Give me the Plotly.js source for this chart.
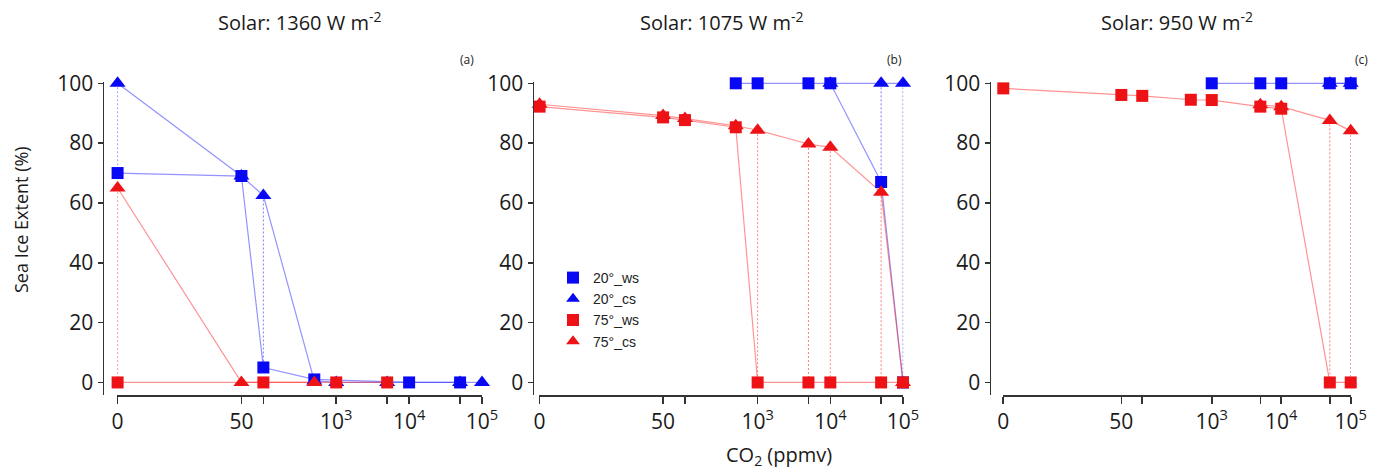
<!DOCTYPE html>
<html>
<head>
<meta charset="utf-8">
<script src="https://cdn.plot.ly/plotly-3.0.1.min.js"></script>
<style>html,body{margin:0;padding:0;background:#fff;}#chart{width:1378px;height:470px;}</style>
</head>
<body>
<div id="chart"></div>
<script>
// CO2 levels (ppmv); 0 ppmv is shown at the "0" tick position (1 on the log axis)
const co2 = [0, 50, 100, 500, 1000, 5000, 10000, 50000, 100000];

const seriesNames = ['20°_ws', '20°_cs', '75°_ws', '75°_cs'];
const panelTitles = ['Solar: 1360 W m<sup>-2</sup>', 'Solar: 1075 W m<sup>-2</sup>', 'Solar: 950 W m<sup>-2</sup>'];
const panelLabels = ['(a)', '(b)', '(c)'];

const xTickVals = [0, 50, 1000, 10000, 100000];
const xTickText = ['0', '50', '10<sup>3</sup>', '10<sup>4</sup>', '10<sup>5</sup>'];
const xMinorTickVals = [100, 5000, 50000];
const yTickVals = [0, 20, 40, 60, 80, 100];

// Panel (a) Solar 1360
const a_ws20 = [70, 69, 5, 1, null, null, 0, 0, null];
const a_cs20 = [100, 69, 62.5, 0.5, 0, 0, null, 0, 0];
const a_ws75 = [0, null, 0, null, 0, 0, null, null, null];
const a_cs75 = [65, 0, null, 0, null, null, null, null, null];

// Panel (b) Solar 1075
const b_ws20 = [null, null, null, 100, 100, 100, 100, 67, 0];
const b_cs20 = [null, null, null, null, null, null, 100, 100, 100];
const b_ws75 = [92.2, 88.6, 87.7, 85.3, 0, 0, 0, 0, 0];
const b_cs75 = [93, 89.2, 88.2, 85.8, 84.3, 79.7, 78.6, 63.6, 0];

// Panel (c) Solar 950
const c_ws20 = [null, null, null, null, 100, 100, 100, 100, 100];
const c_cs20 = [null, null, null, null, null, null, null, 100, 100];
const c_ws75 = [98.3, 96.1, 95.8, 94.5, 94.4, 92.2, 91.5, 0, 0];
const c_cs75 = [null, null, null, null, null, 92.8, 92.2, 87.6, 84.1];

const panels = [
  {ws20: a_ws20, cs20: a_cs20, ws75: a_ws75, cs75: a_cs75},
  {ws20: b_ws20, cs20: b_cs20, ws75: b_ws75, cs75: b_cs75},
  {ws20: c_ws20, cs20: c_cs20, ws75: c_ws75, cs75: c_cs75}
];

const toLogX = v => (v === 0 ? 1 : v);
const xPlot = co2.map(toLogX);

const BLUE = 'rgb(8,8,245)', RED = 'rgb(236,18,22)';
const BLUE_L = 'rgba(40,40,255,0.5)', RED_L = 'rgba(255,40,40,0.5)';
const BLUE_D = 'rgba(40,40,255,0.6)', RED_D = 'rgba(255,40,40,0.6)';

const W = 1378, H = 470;
const geom = [
  {x0: 117.3, x1: 482.3, yax: 102.5},
  {x0: 539.3, x1: 903.3, yax: 532.5},
  {x0: 1003, x1: 1351, yax: 989.5}
];
const yTop = 83.3, yBot = 395;

const lineTraces = [], markerTraces = [], connTraces = [];
function connectors(ws, cs, color, xa, ya) {
  const xs = [], ys = [];
  co2.forEach((c, i) => {
    if (ws[i] != null && cs[i] != null && Math.abs(ws[i] - cs[i]) > 2) {
      xs.push(toLogX(c), toLogX(c), null);
      ys.push(cs[i], ws[i], null);
    }
  });
  return {x: xs, y: ys, xaxis: xa, yaxis: ya, mode: 'lines', showlegend: false, hoverinfo: 'skip',
          line: {color: color, width: 1, dash: '2px,2px'}};
}

panels.forEach((p, k) => {
  const xa = k === 0 ? 'x' : 'x' + (k + 1);
  const ya = k === 0 ? 'y' : 'y' + (k + 1);
  connTraces.push(connectors(p.ws20, p.cs20, BLUE_D, xa, ya));
  connTraces.push(connectors(p.ws75, p.cs75, RED_D, xa, ya));
  const defs = [
    {y: p.cs20, name: seriesNames[1], sym: 'triangle-up', size: 14, mc: BLUE, lc: BLUE_L, rank: 2},
    {y: p.ws20, name: seriesNames[0], sym: 'square', size: 12, mc: BLUE, lc: BLUE_L, rank: 1},
    {y: p.cs75, name: seriesNames[3], sym: 'triangle-up', size: 14, mc: RED, lc: RED_L, rank: 4},
    {y: p.ws75, name: seriesNames[2], sym: 'square', size: 12, mc: RED, lc: RED_L, rank: 3}
  ];
  defs.forEach(d => {
    lineTraces.push({
      x: xPlot, y: d.y, xaxis: xa, yaxis: ya, name: d.name, mode: 'lines', connectgaps: true,
      showlegend: false, hoverinfo: 'skip', line: {color: d.lc, width: 1.2}
    });
    markerTraces.push({
      x: xPlot, y: d.y, xaxis: xa, yaxis: ya, name: d.name, legendrank: d.rank,
      mode: 'markers', cliponaxis: false, showlegend: k === 0,
      marker: {symbol: d.sym, size: d.size, color: d.mc, line: {width: 0}}
    });
  });
});

const traces = connTraces.concat(lineTraces, markerTraces);

const tickFont = {family: 'Open Sans, sans-serif', size: 21, color: '#1a1a1a'};
const layout = {
  width: W, height: H,
  margin: {l: 0, r: 0, t: 0, b: 0},
  paper_bgcolor: '#fff', plot_bgcolor: 'rgba(0,0,0,0)',
  showlegend: true,
  legend: {
    x: 553 / W, y: 1 - 262 / H, xanchor: 'left', yanchor: 'top',
    bgcolor: 'rgba(0,0,0,0)', font: {family: 'Liberation Sans, Arial, sans-serif', size: 14, color: '#222'},
    itemwidth: 30, tracegroupgap: 0, itemsizing: 'constant'
  },
  annotations: []
};

geom.forEach((g, k) => {
  const sfx = k === 0 ? '' : String(k + 1);
  const ya = 'y' + sfx;
  layout['xaxis' + sfx] = {
    type: 'log', range: [-0.004, 5.004], domain: [g.x0 / W, g.x1 / W], anchor: ya,
    tickmode: 'array', tickvals: xTickVals.map(toLogX), ticktext: xTickText,
    minor: {tickmode: 'array', tickvals: xMinorTickVals, ticks: 'outside', ticklen: 7, tickwidth: 1.6, tickcolor: '#333', showgrid: false},
    showline: true, linecolor: '#333', linewidth: 1.6, ticks: 'outside', ticklen: 7, tickwidth: 1.6, tickcolor: '#333',
    showgrid: false, zeroline: false, tickfont: tickFont, fixedrange: true
  };
  layout['yaxis' + sfx] = {
    range: [-4.2, 100.5], domain: [1 - yBot / H, 1 - (yTop - 1.5) / H], anchor: 'free', position: g.yax / W,
    tickmode: 'array', tickvals: yTickVals, showline: true, linecolor: '#333', linewidth: 1.6, ticks: 'outside', ticklen: 5,
    tickwidth: 1.6, tickcolor: '#333', showgrid: false, zeroline: false, tickfont: tickFont, fixedrange: true
  };
  layout.annotations.push({
    text: panelTitles[k], xref: 'paper', yref: 'paper', x: (g.x0 + g.x1) / 2 / W, y: 1 - 21 / H,
    xanchor: 'center', yanchor: 'middle', showarrow: false,
    font: {family: 'Open Sans, sans-serif', size: 20, color: '#1a1a1a'}
  });
  layout.annotations.push({
    text: panelLabels[k], xref: 'paper', yref: 'paper', x: [467, 894, 1361][k] / W, y: 1 - 59 / H,
    xanchor: 'center', yanchor: 'middle', showarrow: false,
    font: {family: 'Open Sans, sans-serif', size: 12, color: '#222'}
  });
});

layout.annotations.push({
  text: 'Sea Ice Extent (%)', xref: 'paper', yref: 'paper', x: 21 / W, y: 1 - 220 / H,
  xanchor: 'center', yanchor: 'middle', textangle: -90, showarrow: false,
  font: {family: 'Open Sans, sans-serif', size: 18, color: '#1a1a1a'}
});
layout.annotations.push({
  text: 'CO<sub>2</sub> (ppmv)', xref: 'paper', yref: 'paper', x: 779 / W, y: 1 - 455 / H,
  xanchor: 'center', yanchor: 'middle', showarrow: false,
  font: {family: 'Open Sans, sans-serif', size: 20, color: '#1a1a1a'}
});

Plotly.newPlot('chart', traces, layout, {displayModeBar: false, staticPlot: true});
</script>
</body>
</html>
